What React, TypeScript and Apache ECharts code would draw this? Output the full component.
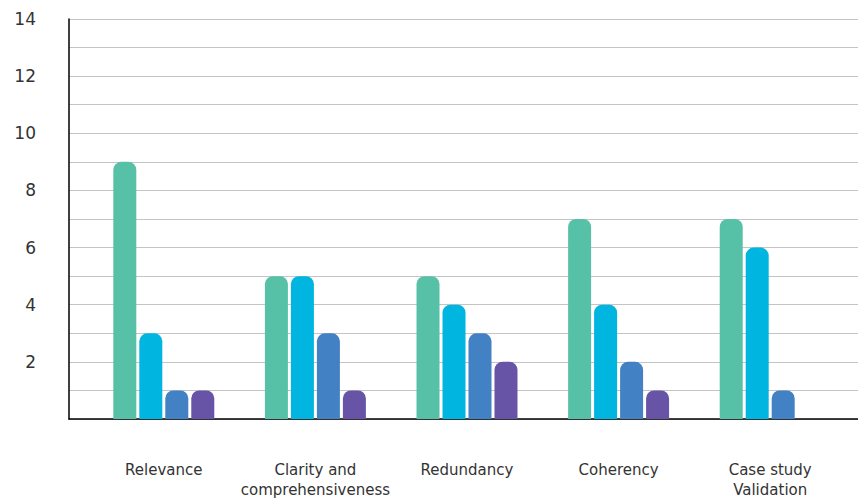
import React, { useEffect, useRef } from "react";
import * as echarts from "echarts";

const categories = [
  "Relevance",
  "Clarity and\ncomprehensiveness",
  "Redundancy",
  "Coherency",
  "Case study\nValidation",
];
const seriesA = [9, 5, 5, 7, 7];
const seriesB = [3, 5, 4, 4, 6];
const seriesC = [1, 3, 3, 2, 1];
const seriesD = [1, 1, 2, 1, 0];
const colors = ["#57c1a7", "#00b5e0", "#4281c3", "#6854a6"];
const yTicks = [2, 4, 6, 8, 10, 12, 14];

export default function App() {
  const ref = useRef<HTMLDivElement>(null);

  useEffect(() => {
    if (!ref.current) return;
    const chart = echarts.init(ref.current, null, { renderer: "svg" });
    const font = "'DejaVu Sans', sans-serif";
    const bar = (data: number[], i: number) => ({
      type: "bar",
      xAxisIndex: 1,
      yAxisIndex: 1,
      data,
      barWidth: 23,
      barGap: "13%",
      itemStyle: { color: colors[i], borderRadius: [8, 8, 0, 0] },
    });
    chart.setOption({
      animation: false,
      grid: [
        { left: 69, right: 0, top: 19, bottom: 79, outerBoundsMode: "none" },
        { left: 88, width: 758, top: 19, bottom: 79, outerBoundsMode: "none" },
      ],
      xAxis: [
        {
          gridIndex: 0,
          type: "value",
          min: 0,
          max: 1,
          axisLine: { show: true, onZero: false, lineStyle: { color: "#000", width: 1.5 } },
          axisTick: { show: false },
          axisLabel: { show: false },
          splitLine: { show: false },
        },
        {
          gridIndex: 1,
          type: "category",
          data: categories,
          axisLine: { show: false },
          axisTick: { show: false },
          axisLabel: {
            margin: 41,
            color: "#333",
            fontSize: 15,
            fontFamily: font,
            lineHeight: 20,
            interval: 0,
          },
        },
      ],
      yAxis: [
        {
          gridIndex: 0,
          type: "value",
          min: 0,
          max: 14,
          interval: 1,
          axisLine: { show: true, lineStyle: { color: "#000", width: 1.5 } },
          axisTick: { show: false },
          axisLabel: {
            margin: 33,
            color: "#333",
            fontSize: 17,
            fontFamily: font,
            padding: [6, 0, 0, 0],
            formatter: (v: number) => (yTicks.includes(v) ? String(v) : ""),
          },
          splitLine: { show: true, lineStyle: { color: "#c4c4c4", width: 1 } },
        },
        {
          gridIndex: 1,
          type: "value",
          min: 0,
          max: 14,
          show: false,
          splitLine: { show: false },
        },
      ],
      series: [
        bar(seriesA, 0),
        bar(seriesB, 1),
        bar(seriesC, 2),
        bar(seriesD, 3),
      ],
    });
    return () => chart.dispose();
  }, []);

  return (
    <div
      ref={ref}
      style={{ position: "fixed", left: 0, top: 0, width: 858, height: 498, background: "#fff" }}
    />
  );
}
